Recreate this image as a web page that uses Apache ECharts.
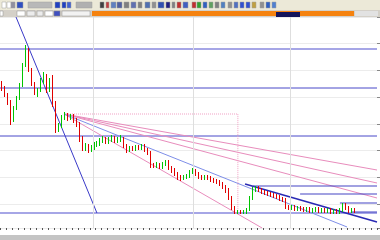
<!DOCTYPE html>
<html><head><meta charset="utf-8">
<script src="https://cdn.jsdelivr.net/npm/echarts@6/dist/echarts.min.js"></script>
<style>html,body{margin:0;padding:0;background:#fff;overflow:hidden}#c{width:380px;height:240px}</style>
</head><body><div id="c"></div>
<script>
// candle rows: [open, close, low, high] (price units)
const candles = [
[145,140,137,147],[140,133,131,142],[133,126,123,135],[126,108,103,128],[108,120,106,122],
[120,130,118,132],[130,143,128,145],[143,163,141,165],[163,178,161,183],[178,158,156,180],
[158,144,142,160],[144,136,133,146],[136,138,131,140],[138,146,136,150],[146,152,144,156],
[152,138,135,154],[138,146,136,150],[148,125,121,153],[125,98,95,127],[98,102,96,105],
[102,110,100,113],[110,113,108,116],[113,110,107,115],[110,112,108,114],[112,108,105,114],
[108,104,101,110],[104,90,86,106],[90,80,77,92],[80,82,77,85],[82,78,75,84],
[78,80,76,83],[80,83,78,86],[83,84,81,87],[84,87,82,90],[87,89,85,92],
[89,86,84,91],[86,88,84,91],[88,90,86,93],[90,87,85,92],[87,88,85,91],
[88,89,86,93],[89,82,80,91],[82,78,75,84],[78,80,76,82],[80,79,77,82],
[79,81,77,83],[81,80,78,83],[80,82,78,84],[82,78,76,84],[78,75,73,80],
[75,63,60,77],[63,62,60,65],[62,63,60,66],[63,61,59,65],[61,64,59,66],
[64,66,62,68],[66,60,58,68],[60,58,55,62],[58,54,52,60],[54,51,48,56],
[51,50,47,53],[50,51,48,53],[51,52,49,54],[52,56,50,58],[56,57,54,60],
[57,54,52,59],[54,51,49,56],[51,50,48,53],[50,51,48,53],[51,50,48,53],
[50,48,46,52],[48,47,45,50],[47,46,44,49],[46,44,42,48],[44,41,39,46],
[41,38,35,43],[38,30,28,40],[30,20,18,32],[20,16,14,22],[16,16,14,18],
[16,15,14,18],[15,16,14,18],[16,18,14,20],[18,30,17,32],[30,38,28,41],
[38,40,36,42],[40,38,36,42],[38,36,34,40],[36,35,33,38],[35,34,32,37],
[34,33,31,36],[33,32,30,35],[32,31,29,34],[31,29,27,33],[29,28,26,31],
[28,21,19,30],[21,20,18,23],[20,21,18,23],[21,19,17,23],[19,20,17,22],
[20,19,17,22],[19,18,16,21],[18,19,16,21],[19,17,15,21],[17,18,15,20],
[18,19,16,21],[19,17,15,21],[17,18,15,20],[18,17,15,20],[17,18,15,20],
[18,16,14,20],[16,17,14,19],[17,16,14,19],[16,18,14,20],[18,23,16,25],
[23,20,18,25],[20,17,15,22],[17,18,15,20],[18,17,15,20]
];
const barCount = 126; // visible bar slots including empty right margin
const categories = Array.from({length: barCount}, (_, i) => String(i + 1));

// drawn objects, in (bar position, price)
const steepLine = [[5.35, 211], [32.4, 15]];
const levelsThick = [179, 15];
const levelsThin = [140, 92];
const fanOrigin = [21.4, 114];
const fanPinkEnds = [[126, 58], [126, 45], [126, 30], [87.6, 0]];
const fanBlueEnd = [116, 1];
const channelLine = [[81.9, 44], [126, 6]];
const boxCorner = [79.5, 15];
const stubLevels = [[84.6, 42], [100.3, 34], [113.6, 25], [117.6, 16]];
const separators = [31.1, 64.5, 97];

const chart = echarts.init(document.getElementById('c'), null, {renderer: 'canvas'});

function seg(points, color, width, type, z) {
  return {type: 'line', xAxisIndex: 1, yAxisIndex: 0, data: points, symbol: 'none',
    silent: true, animation: false, lineStyle: {color: color, width: width, type: type || 'solid'}, z: z || 3};
}
const series = [];
series.push({
  type: 'candlestick', xAxisIndex: 0, yAxisIndex: 0, data: candles, barWidth: 1, z: 5,
  itemStyle: {color: '#00c400', color0: '#e00000', borderColor: '#00c400', borderColor0: '#e00000', borderWidth: 1}
});
const sepSeries = seg([], '#000', 0);
sepSeries.markLine = {silent: true, symbol: 'none', label: {show: false},
  lineStyle: {color: '#dedede', width: 1, type: 'solid'}, data: separators.map(v => ({xAxis: v}))};
series.push(sepSeries);
levelsThick.forEach(v => series.push(seg([[0, v], [126, v]], '#a6a6e6', 2)));
levelsThin.forEach(v => series.push(seg([[0, v], [126, v]], '#4848c8', 1)));
series.push(seg(steepLine, '#3a3ac8', 1));
fanPinkEnds.forEach(e => series.push(seg([fanOrigin, e], '#e88cbc', 1)));
series.push(seg([fanOrigin, fanBlueEnd], '#7e8ee8', 1));
series.push(seg(channelLine, '#2a2ab4', 1.5));
series.push(seg([fanOrigin, [boxCorner[0], fanOrigin[1]], boxCorner], '#f0a0c4', 1, 'dotted'));
stubLevels.forEach(s => series.push(seg([s, [126, s[1]]], '#4444c4', 1.2)));

// window chrome (toolbar, tab strip, status strip)
const g = [];
g.push({type: 'rect', shape: {x: 0, y: 0, width: 380, height: 10}, style: {fill: '#ece9d8'}});
g.push({type: 'rect', shape: {x: 0, y: 10, width: 380, height: 7}, style: {fill: '#d4d0c8'}});
g.push({type: 'rect', shape: {x: 92, y: 11, width: 262, height: 5}, style: {fill: '#f5820f'}});
g.push({type: 'rect', shape: {x: 276, y: 12, width: 24, height: 5}, style: {fill: '#13135a'}});
g.push({type: 'rect', shape: {x: 355, y: 11, width: 23, height: 5}, style: {fill: '#e2e2e2'}});
g.push({type: 'rect', shape: {x: 0, y: 235, width: 380, height: 5}, style: {fill: '#c4c4c4'}});
const icons = [[2,4,'#ffffff'],[7,4,'#ffffff'],[11,4,'#9090a0'],[17,6,'#3050c0'],[28,24,'#b8b8b8'],
 [55,5,'#2040c0'],[62,4,'#2040c0'],[67,4,'#4060d0'],[76,16,'#b0b0b0'],[100,4,'#404040'],[106,3,'#c04040'],
 [111,5,'#6080c0'],[117,5,'#5060a0'],[124,5,'#808080'],[131,5,'#6070b0'],[138,4,'#808080'],[145,5,'#5070b0'],
 [152,4,'#909090'],[158,6,'#3050b0'],[166,4,'#202080'],[172,3,'#808080'],[177,4,'#c03030'],[183,5,'#4060c0'],
 [192,4,'#c03030'],[197,4,'#30a030'],[203,4,'#3060c0'],[209,4,'#60a060'],[215,4,'#808080'],[221,4,'#5080c0'],
 [228,4,'#909090'],[234,4,'#5070c0'],[240,4,'#3050d0'],[246,4,'#3050d0'],[252,4,'#c0a040'],[260,4,'#909090'],
 [266,4,'#3060c0'],[272,4,'#5080d0']];
icons.forEach(ic => g.push({type: 'rect', shape: {x: ic[0], y: 2, width: ic[1], height: 6}, style: {fill: ic[2], stroke: '#a0a0a0', lineWidth: 0.5}}));
const tabs = [[0,3,'#ffffff'],[17,8,'#ffffff'],[27,8,'#ececec'],[37,6,'#ececec'],[45,8,'#ffffff'],[54,6,'#4050c0'],[62,28,'#f2f2f2']];
tabs.forEach(t => g.push({type: 'rect', shape: {x: t[0], y: 11, width: t[1], height: 5}, style: {fill: t[2], stroke: '#909090', lineWidth: 0.5}}));

chart.setOption({
  animation: false,
  backgroundColor: '#ffffff',
  grid: {left: 0, right: 3, top: 17, bottom: 12},
  xAxis: [
    {type: 'category', data: categories, boundaryGap: true, axisLine: {show: false},
     axisTick: {show: true, interval: 1, length: 2, lineStyle: {color: '#555'}}, axisLabel: {show: false}, splitLine: {show: false}},
    {type: 'value', min: 0, max: 126, show: false}
  ],
  yAxis: [
    {type: 'value', min: 0, max: 211, show: false},
    {type: 'value', inverse: true, min: 0, max: 211, interval: 26.7, position: 'right',
     axisLine: {show: false}, axisLabel: {show: false},
     axisTick: {show: true, length: 3, lineStyle: {color: '#888'}},
     splitLine: {show: true, lineStyle: {color: '#ececec'}}}
  ],
  series: series,
  graphic: g
});
</script></body></html>
